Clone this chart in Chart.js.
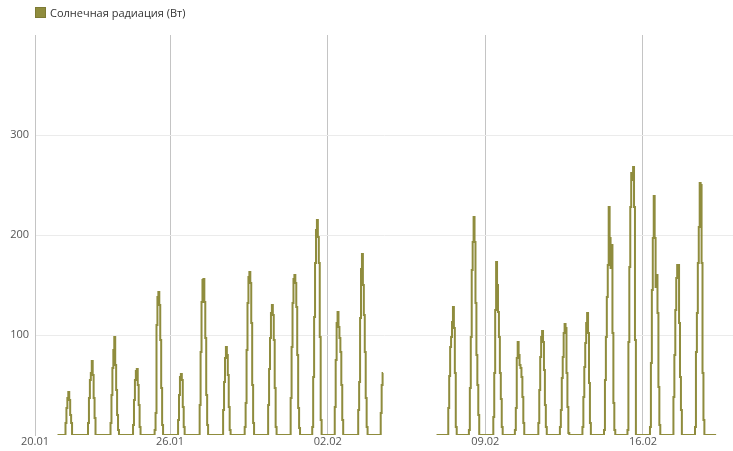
<!DOCTYPE html>
<html>
<head>
<meta charset="utf-8">
<script src="https://cdn.jsdelivr.net/npm/chart.js@4.4.1/dist/chart.umd.min.js"></script>
<style>
  html, body { margin: 0; padding: 0; background: #fff; }
  #wrap { position: relative; width: 733px; height: 451px; }
  #legend {
    position: absolute; left: 35px; top: 5px;
    font: 11px "Open Sans", sans-serif; color: #333;
    display: flex; align-items: center; white-space: nowrap;
  }
  #legend .box {
    width: 11px; height: 11px; box-sizing: border-box;
    background: #8f8c3d; border: 1px solid #7d7a34; margin-right: 4px;
  }
</style>
</head>
<body>
<div id="wrap">
  <canvas id="chart"></canvas>
  <div id="legend"><span class="box"></span><span id="legendText"></span></div>
</div>
<script>
// Подпись ряда и ось X (дни от 20.01)
const seriesLabel = 'Солнечная радиация (Вт)';
const tickDays = [0, 6, 13, 20, 27];
const tickLabels = ['20.01', '26.01', '02.02', '09.02', '16.02'];

// Периоды записи: [день, час] начала — [день, час] конца
const periods = [[1, 0, 15, 11], [17, 20, 30, 6]];

// Дневные часовые значения (ночью 0)
const dayIndex = [1, 2, 3, 4, 5, 6, 7, 8, 9, 10, 11, 12, 13, 14, 15,
                  18, 19, 20, 21, 22, 23, 24, 25, 26, 27, 28, 29];
const firstHour = [9, 9, 9, 9, 8, 9, 8, 9, 8, 9, 9, 8, 8, 9, 9,
                   9, 7, 9, 8, 9, 8, 8, 7, 8, 8, 9, 8];
const daylight = [
  [12, 27, 37, 43, 35, 20, 12],                      // 21.01
  [12, 37, 55, 62, 74, 60, 37, 17],                  // 22.01
  [12, 40, 67, 85, 98, 70, 45, 20, 5],               // 23.01
  [10, 35, 55, 64, 66, 50, 30, 8],                   // 24.01
  [5, 22, 110, 138, 143, 130, 95, 47, 10],           // 25.01
  [15, 40, 58, 61, 55, 28, 8],                       // 26.01
  [30, 83, 133, 155, 156, 133, 97, 40, 10],          // 27.01
  [25, 53, 77, 88, 80, 60, 28, 5],                   // 28.01
  [8, 32, 85, 132, 158, 163, 152, 112, 50, 12],      // 29.01
  [30, 66, 97, 122, 130, 120, 95, 47, 8],            // 30.01
  [37, 88, 132, 156, 160, 152, 128, 80, 27, 7],      // 31.01
  [8, 58, 118, 172, 205, 215, 198, 172, 98, 15],     // 01.02
  [28, 75, 112, 123, 108, 97, 83, 50, 15],           // 02.02
  [25, 53, 117, 166, 181, 150, 120, 83, 37, 8],      // 03.02
  [22, 50, 62],                                      // 04.02
  [27, 59, 88, 98, 113, 128, 107, 62, 8],            // 07.02
  [5, 47, 98, 165, 193, 218, 193, 132, 80, 50, 20],  // 08.02
  [18, 62, 125, 173, 150, 123, 98, 62, 36, 8],       // 09.02
  [5, 27, 77, 93, 80, 70, 67, 58, 38, 12],           // 10.02
  [12, 45, 78, 98, 104, 93, 65, 30, 8],              // 11.02
  [8, 25, 57, 78, 102, 111, 107, 62, 28, 2],         // 12.02
  [8, 38, 68, 92, 112, 122, 102, 52, 12],            // 13.02
  [5, 55, 98, 138, 170, 228, 197, 167, 190, 102, 32, 5], // 14.02
  [5, 93, 168, 228, 262, 255, 268, 228, 95],         // 15.02
  [8, 72, 145, 197, 239, 197, 148, 160, 122, 48, 10],// 16.02
  [38, 80, 125, 157, 170, 170, 112, 58, 25],         // 17.02
  [8, 83, 122, 172, 208, 252, 250, 172, 62, 15]      // 18.02
];

const lineColor = '#8f8c3d';

function valueAt(day, hour) {
  const i = dayIndex.indexOf(day);
  if (i < 0) return 0;
  const j = hour - firstHour[i];
  return (j >= 0 && j < daylight[i].length) ? daylight[i][j] : 0;
}

function buildPoints() {
  let points = [];
  periods.forEach((p, k) => {
    let from = p[0] * 24 + p[1];
    let to = p[2] * 24 + p[3];
    // разрыв между периодами
    if (k > 0) points.push({ x: from / 24 - 0.01, y: null });
    for (let t = from; t <= to; t++) {
      points.push({ x: t / 24, y: valueAt(Math.floor(t / 24), t % 24) });
    }
  });
  return points;
}

document.getElementById('legendText').textContent = seriesLabel;

Chart.defaults.font.family = '"Open Sans", sans-serif';
Chart.defaults.font.size = 11;

new Chart(document.getElementById('chart'), {
  type: 'line',
  data: {
    datasets: [{
      label: seriesLabel,
      data: buildPoints(),
      borderColor: lineColor,
      backgroundColor: lineColor,
      borderWidth: 2,
      pointRadius: 0,
      fill: false,
      stepped: 'middle',
      spanGaps: false
    }]
  },
  options: {
    responsive: true,
    maintainAspectRatio: false,
    animation: false,
    layout: { padding: { top: 35, left: 0, right: 0, bottom: 0 } },
    plugins: {
      legend: { display: false },
      tooltip: { enabled: false }
    },
    scales: {
      x: {
        type: 'linear',
        min: 0,
        max: 31,
        afterBuildTicks: (scale) => {
          scale.ticks = tickDays.map(v => ({ value: v }));
        },
        afterFit: (scale) => { scale.height = 16; },
        ticks: {
          autoSkip: false,
          maxRotation: 0,
          padding: 0,
          color: '#555',
          callback: (value) => tickLabels[tickDays.indexOf(value)]
        },
        grid: { color: '#c4c4c4', drawTicks: false },
        border: { display: false }
      },
      y: {
        min: 0,
        max: 400,
        afterFit: (scale) => { scale.width = 35; },
        ticks: {
          stepSize: 100,
          padding: 6,
          color: '#555',
          callback: (value) => (value === 0 || value === 400) ? '' : value
        },
        grid: {
          drawTicks: false,
          color: (ctx) => (ctx.tick && (ctx.tick.value === 0 || ctx.tick.value === 400)) ? 'rgba(0,0,0,0)' : '#ebebeb'
        },
        border: { display: true, color: '#c4c4c4' }
      }
    }
  }
});
</script>
</body>
</html>
